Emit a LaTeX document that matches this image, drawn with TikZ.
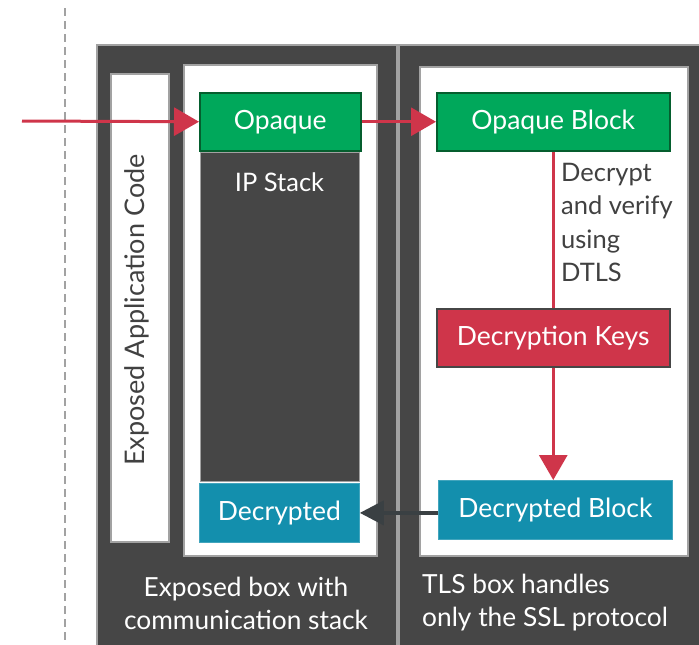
\documentclass[tikz,border=0pt]{standalone}
\usepackage{fontspec}
\setmainfont{Lato}
\usetikzlibrary{arrows.meta}
\definecolor{darkbg}{HTML}{464646}
\definecolor{edgegray}{HTML}{A2A2A2}
\definecolor{boxgreen}{HTML}{00A85B}
\definecolor{greenedge}{HTML}{055E2E}
\definecolor{keyred}{HTML}{CF354A}
\definecolor{teal}{HTML}{138FAD}
\definecolor{txtgray}{HTML}{414141}
\definecolor{arrdark}{HTML}{3A4043}
\tikzset{
  panel/.style={draw=edgegray, line width=2pt, fill=darkbg, anchor=north west, inner sep=0pt},
  whitebox/.style={draw=edgegray, line width=2pt, fill=white, anchor=north west, inner sep=0pt},
  blk/.style={anchor=north west, inner sep=0pt, text=white, font=\fontsize{26.5}{30}\selectfont},
  greenblk/.style={blk, fill=boxgreen, draw=greenedge, line width=1.5pt},
  tealblk/.style={blk, fill=teal, draw=teal!80!white, line width=0.8pt},
  redblk/.style={blk, fill=keyred, draw=darkbg, line width=1.5pt},
  stackblk/.style={blk, fill=darkbg, draw=edgegray, line width=1pt},
  redarrow/.style={draw=keyred, line width=3pt, -{Triangle[length=25pt,width=28pt]}},
  redline/.style={draw=keyred, line width=3pt},
  darkarrow/.style={draw=arrdark, line width=4pt, -{Triangle[length=24pt,width=24pt]}},
  lbl/.style={font=\fontsize{26.3}{33}\selectfont, inner sep=0pt},
}
\begin{document}
\begin{tikzpicture}[x=1pt,y=-1pt]
\useasboundingbox (0,0) rectangle (699,645);
\clip (0,0) rectangle (699,645);
% dashed boundary
\coordinate (dtop) at (65,8);
\coordinate (dbot) at (65,645);
\draw[edgegray, line width=2pt, dash pattern=on 8pt off 5pt] (dtop) -- (dbot);
% outer panels
\node[panel, minimum width=300pt, minimum height=620pt] (leftpanel) at (96,44) {};
\node[panel, minimum width=320pt, minimum height=620pt] (rightpanel) at (398,44) {};
% white boxes
\node[whitebox, minimum width=58pt, minimum height=468pt] (appcode) at (110,73) {};
\node[lbl, text=txtgray, rotate=90, font=\fontsize{27}{30}\selectfont] (appcodetxt) at (137,310) {Exposed Application Code};
\node[whitebox, minimum width=193pt, minimum height=491pt] (leftinner) at (183,64) {};
\node[whitebox, minimum width=268pt, minimum height=489pt] (rightinner) at (419,66) {};
% left column blocks
\node[greenblk, minimum width=161pt, minimum height=58pt] (opaque) at (199,92) {Opaque};
\node[stackblk, minimum width=159pt, minimum height=329pt] (ipstack) at (200,152) {};
\node[lbl, text=white, anchor=center, font=\fontsize{25.5}{30}\selectfont] (iptxt) at (279.5,182) {IP Stack};
\node[tealblk, minimum width=160pt, minimum height=59pt] (decrypted) at (199,483) {Decrypted};
% right column blocks
\node[greenblk, minimum width=233pt, minimum height=58pt] (opaqueblock) at (436,92) {Opaque Block};
\node[redblk, minimum width=233pt, minimum height=58pt] (keys) at (436,308) {Decryption Keys};
\node[tealblk, minimum width=234pt, minimum height=59pt] (decblock) at (438,480) {Decrypted Block};
% labels
\node[lbl, text=txtgray, anchor=north west, align=left, font=\fontsize{25.5}{33.5}\selectfont] (dtls) at (561,163) {Decrypt\\and verify\\using\\DTLS};
\node[lbl, text=white, align=center] (leftcap) at (246,603) {Exposed box with\\communication stack};
\node[lbl, text=white, anchor=west, align=left] (rightcap) at (422,603) {TLS box handles\\only the SSL protocol};
% connectors
\coordinate (inp) at (22,121);
\draw[redarrow] (inp) -- (opaque.west);
\draw[redarrow] (opaque.east) -- (opaqueblock.west);
\draw[redline] (opaqueblock.south) -- (keys.north);
\draw[redarrow] (keys.south) -- (keys.south |- decblock.north);
\draw[darkarrow] (decblock.west |- decrypted.east) -- (decrypted.east);
\end{tikzpicture}
\end{document}
